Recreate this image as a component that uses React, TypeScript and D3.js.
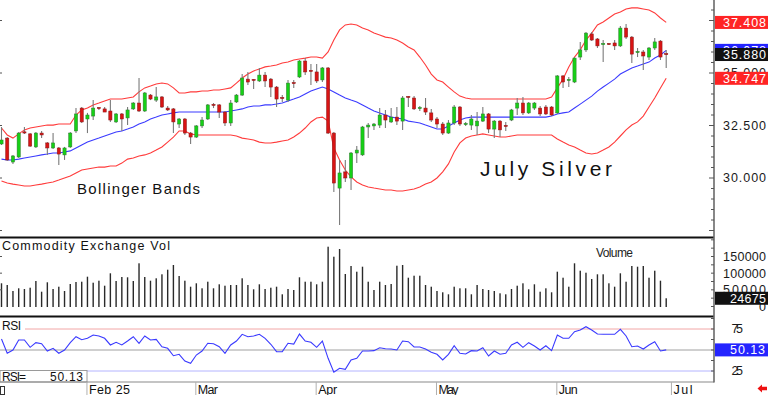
import React, { useEffect } from "react";
import * as d3 from "d3";

// ---- Data (July Silver, daily) ----
const openP = [31.62,31.90,30.76,31.00,32.17,32.10,31.48,32.14,31.67,31.43,
31.43,31.10,31.48,32.24,33.33,32.81,32.95,33.33,33.29,33.19,
32.67,33.05,32.86,33.29,33.57,33.19,33.95,33.71,33.86,33.33,
33.29,32.57,32.81,32.14,31.95,32.48,32.81,33.48,33.48,33.14,
32.62,33.62,33.95,34.71,34.67,34.62,34.90,34.71,34.33,33.81,
33.71,34.52,34.81,35.57,35.10,35.05,34.67,35.24,32.14,29.52,
30.29,30.00,31.19,31.10,32.43,32.48,32.52,33.00,32.67,32.90,
32.71,33.86,33.81,33.29,33.33,33.10,32.81,32.57,32.14,32.62,
33.38,32.52,32.52,32.48,32.71,33.05,32.33,32.71,32.48,32.76,
33.33,33.57,33.10,33.33,33.33,33.38,33.38,33.10,34.86,34.62,
34.57,35.76,36.10,36.86,36.62,36.36,36.38,36.43,36.29,37.14,
36.71,35.95,36.00,35.76,36.19,36.52,35.90];
const highP = [32.43,31.95,31.10,32.19,32.43,32.14,32.19,32.24,31.71,32.14,
31.48,31.48,32.19,33.33,33.38,33.10,33.71,33.38,33.38,33.71,
33.10,33.10,33.38,33.62,34.76,34.10,34.00,34.33,33.90,33.43,
33.33,32.86,32.86,32.19,32.52,32.90,33.52,33.57,33.52,33.19,
33.71,34.00,34.95,35.05,34.71,35.24,35.05,34.76,34.38,33.95,
34.67,34.67,35.62,35.71,35.43,35.43,35.29,35.29,32.19,30.86,
30.86,31.24,31.52,32.48,32.62,32.62,33.33,33.24,33.33,33.38,
33.90,33.90,33.90,33.43,33.81,33.29,32.90,32.67,32.76,33.48,
33.43,32.67,33.00,33.14,33.38,33.10,32.76,32.76,32.67,33.29,
33.81,33.86,33.62,33.62,33.43,33.48,33.43,34.90,34.90,34.81,
35.76,36.48,36.95,36.95,36.67,36.57,36.43,36.57,37.24,37.33,
36.76,36.19,36.10,36.24,36.67,36.57,36.10];
const lowP = [31.57,30.81,30.67,30.95,32.10,31.48,31.43,31.90,31.10,31.38,
30.62,30.86,31.43,32.14,32.62,32.14,32.76,33.24,33.14,32.67,
32.62,32.24,32.52,33.24,33.14,33.14,33.71,33.62,33.33,33.19,
32.14,32.38,32.05,31.62,31.90,32.38,32.76,33.33,32.86,32.48,
32.48,33.57,33.90,34.43,34.24,34.57,34.33,33.86,33.38,33.62,
33.62,34.29,34.76,34.90,34.43,34.52,34.57,32.10,29.33,27.76,
29.81,29.43,30.71,31.05,31.90,32.29,32.38,32.38,32.62,32.52,
32.29,33.38,33.24,33.19,33.00,32.67,32.38,32.05,32.10,32.52,
32.48,32.48,32.29,32.05,32.67,32.14,31.90,31.95,32.24,32.71,
33.00,33.00,33.05,33.24,32.95,33.00,32.95,33.05,34.29,34.33,
34.52,35.62,36.00,36.52,36.19,35.52,36.33,36.10,36.24,36.62,
35.48,35.76,35.14,35.62,36.10,35.62,35.24];
const closeP = [31.81,30.86,31.05,32.14,32.12,31.52,32.14,32.05,31.43,31.67,
31.14,31.43,32.14,33.05,32.67,33.00,33.33,33.29,33.14,32.76,
33.05,32.81,33.24,33.57,33.19,34.05,33.76,33.86,33.38,33.24,
32.67,32.81,32.14,31.95,32.48,32.76,33.48,33.43,33.14,32.62,
33.57,33.95,34.76,34.57,34.62,34.90,34.62,34.33,33.76,33.76,
34.52,34.48,35.57,35.05,35.05,34.62,35.24,32.14,29.76,30.24,
30.00,31.19,31.33,32.43,32.52,32.57,33.00,32.76,32.90,32.71,
33.81,33.81,33.29,33.33,33.14,32.76,32.57,32.14,32.62,33.38,
32.57,32.57,32.81,32.71,33.05,32.33,32.71,32.29,32.43,33.24,
33.57,33.10,33.57,33.57,33.05,33.05,33.00,34.86,34.57,34.67,
35.71,36.10,36.90,36.57,36.29,36.38,36.36,36.29,37.14,36.71,
35.90,36.00,35.81,36.19,36.48,35.76,35.88];

const volume = [69600,64500,46500,54600,52500,56400,76500,44400,72600,52500,
59400,46500,67500,73500,74400,89400,71400,77400,62400,99600,
76500,88500,87600,76500,129600,88500,77400,84600,96600,110400,
124500,91500,77400,59400,69600,54600,74400,54600,66600,62400,
64500,64500,84600,64500,51600,66600,52500,56400,59400,36600,
52500,49500,87600,74400,74400,66600,74400,179400,149400,172500,
97500,121500,104400,119400,74400,49500,74400,64500,67500,122400,
124500,86400,92400,92400,64500,59400,46500,42600,36600,59400,
54600,54600,36600,64500,52500,49500,46500,39600,36600,52500,
62400,69600,51600,66600,44400,54600,42600,104400,86400,59400,
129600,107400,101400,82500,96600,96600,69600,59400,99600,74400,
121500,119400,121500,86400,107400,77400,24675];

const rsi = [63.1,46.1,50.0,61.9,61.9,53.2,58.7,57.5,48.8,52.0,
46.1,50.0,58.7,65.8,62.3,63.9,67.9,66.7,63.9,56.0,
59.2,56.0,60.7,65.8,58.0,66.7,61.9,62.7,53.9,52.0,
43.2,44.9,36.9,34.2,44.0,48.8,58.0,57.5,53.9,46.1,
56.0,60.7,68.7,65.8,66.7,68.7,63.9,56.8,48.0,48.0,
58.0,57.1,69.0,60.7,59.2,53.2,60.7,40.1,23.5,28.2,
27.0,38.1,40.1,48.8,48.8,49.2,52.7,51.5,51.2,50.0,
60.7,59.9,53.6,53.6,51.2,47.3,44.9,38.1,44.9,55.1,
46.1,45.2,49.2,48.8,52.7,42.9,48.8,44.9,46.1,56.0,
59.2,53.2,58.7,54.8,50.0,55.1,49.2,67.9,63.9,63.9,
71.8,73.8,77.7,73.8,69.0,68.7,68.7,68.7,74.6,66.7,
53.9,54.8,51.2,56.0,59.9,48.8,50.13];

const bbUpper = [32.38,32.05,31.90,32.10,32.29,32.38,32.43,32.48,32.52,32.52,
32.57,32.57,32.57,33.00,33.24,33.33,33.48,33.57,33.67,33.76,
33.76,33.76,33.81,33.86,34.10,34.29,34.38,34.48,34.52,34.48,
34.29,34.05,34.05,34.10,34.10,34.14,34.14,34.19,34.19,34.24,
34.29,34.52,34.76,34.95,35.10,35.19,35.29,35.33,35.38,35.48,
35.52,35.62,35.67,35.71,35.76,35.76,35.71,36.00,36.57,37.05,
37.29,37.33,37.29,37.14,37.05,36.90,36.81,36.71,36.67,36.57,
36.43,36.24,36.10,35.76,35.38,34.95,34.67,34.57,34.33,34.10,
33.90,33.81,33.76,33.76,33.76,33.76,33.76,33.76,33.76,33.76,
33.76,33.76,33.76,33.76,33.76,33.76,33.86,34.29,34.71,35.29,
35.76,36.10,36.57,36.90,37.29,37.43,37.62,37.81,37.90,38.05,
38.10,38.10,38.05,38.00,37.86,37.62,37.408];
const bbMiddle = [30.90,30.86,30.86,30.90,30.95,31.00,31.05,31.10,31.14,31.19,
31.19,31.24,31.29,31.43,31.57,31.71,31.81,31.90,32.00,32.10,
32.19,32.24,32.33,32.43,32.57,32.67,32.81,32.90,33.00,33.05,
33.10,33.14,33.14,33.14,33.14,33.14,33.14,33.14,33.14,33.14,
33.19,33.24,33.29,33.38,33.43,33.43,33.48,33.48,33.52,33.57,
33.67,33.76,33.86,34.00,34.14,34.24,34.33,34.24,34.10,33.95,
33.81,33.71,33.62,33.48,33.33,33.19,33.10,33.00,32.90,32.86,
32.81,32.71,32.67,32.62,32.52,32.43,32.33,32.33,32.48,32.62,
32.76,32.86,32.90,32.90,32.90,32.90,32.90,32.90,32.90,32.90,
32.90,32.90,32.90,32.90,32.90,32.90,32.95,33.05,33.10,33.14,
33.33,33.52,33.71,33.90,34.14,34.33,34.52,34.71,34.95,35.10,
35.24,35.33,35.43,35.52,35.71,35.86,36.078];
const bbLower = [29.86,29.76,29.71,29.67,29.62,29.62,29.67,29.71,29.76,29.81,
29.90,30.00,30.10,30.24,30.38,30.43,30.48,30.52,30.52,30.57,
30.57,30.71,30.90,30.95,31.05,31.10,31.19,31.33,31.48,31.71,
31.95,32.24,32.24,32.10,32.05,32.05,32.05,32.05,32.05,32.05,
32.05,32.00,31.90,31.86,31.81,31.71,31.67,31.67,31.71,31.76,
31.81,31.95,32.14,32.38,32.67,32.86,32.90,32.71,31.43,30.86,
30.38,30.05,29.81,29.67,29.57,29.52,29.48,29.43,29.43,29.38,
29.38,29.43,29.48,29.57,29.71,29.81,30.00,30.29,30.67,31.24,
31.67,31.90,32.00,32.05,32.10,32.05,32.00,31.95,31.95,32.00,
32.05,32.05,32.05,32.05,32.05,32.05,32.05,31.86,31.71,31.57,
31.48,31.33,31.19,31.14,31.19,31.33,31.48,31.71,32.00,32.29,
32.52,32.67,32.95,33.38,33.81,34.29,34.747];

const monthLabels = ["Feb 25", "Mar", "Apr", "May", "Jun", "Jul"];
const monthStartIndex = [15, 34, 55, 76, 97, 117];
const monthLabelWidths = [41, 20, 19, 20, 19, 19];
// 37.500 sits entirely under the 37.408 marker in the reference, so only these are labelled
const priceAxisValues = [30, 32.5, 35];
const priceAxisLabels = ["30.000", "32.500", "35.000"];
const volumeAxisValues = [0, 50000, 100000, 150000];
const rsiAxisValues = [25, 75];

const lastUpper = 37.408;
const lastMiddle = 36.078;
const lastClose = 35.88;
const lastLower = 34.747;
const lastVolume = 24675;
const lastRsi = 50.13;

const FONT = "'Liberation Sans', Arial, Helvetica, sans-serif";

export default function App() {
  useEffect(() => {
    document.body.style.margin = "0";
  }, []);

  const W = 768;
  const H = 395;
  const AX = 714;
  const n = closeP.length;
  const idx = d3.range(n);

  const x = d3.scaleLinear().domain([0, n - 1]).range([1.5, 666.2]);
  const yP = d3.scaleLinear().domain([30, 37.5]).range([178, 20.5]);
  const yV = d3.scaleLinear().domain([0, 150000]).range([306.5, 256.5]);
  const yR = d3.scaleLinear().domain([25, 75]).range([371, 329]);

  const bandPath = (arr: number[]) =>
    d3.line<number>().x((i) => x(i)).y((i) => yP(arr[i]))(idx) || "";
  const rsiPath = d3.line<number>().x((i) => x(i)).y((i) => yR(rsi[i]))(idx) || "";

  const priceMinor = d3.range(27.5, 38.51, 0.5);
  const volMinor = d3.range(0, 200001, 25000);
  const rsiMinor = d3.range(12.5, 90, 12.5);

  const numText = (
    key: string,
    label: string,
    xPos: number,
    yCenter: number,
    len: number,
    fill = "#1a1a1a"
  ) => (
    <text
      key={key}
      x={xPos}
      y={yCenter + 4.4}
      fontSize={12.5}
      fontFamily={FONT}
      fill={fill}
      textLength={len}
      lengthAdjust="spacing"
    >
      {label}
    </text>
  );

  const marker = (key: string, yc: number, label: string, bg: string) => (
    <g key={key}>
      <rect x={AX + 1} y={yc - 6.5} width={W - AX - 1} height={13} fill={bg} />
      {numText(key + "t", label, 723, yc, 43, "#ffffff")}
    </g>
  );

  return (
    <svg
      width={W}
      height={H}
      viewBox={`0 0 ${W} ${H}`}
      style={{ position: "absolute", left: 0, top: 0, display: "block", background: "#fff" }}
    >
      <rect x={0} y={0} width={W} height={H} fill="#ffffff" />

      {/* ---------- Price panel ---------- */}
      <path d={bandPath(bbUpper)} fill="none" stroke="#ff3b3b" strokeWidth={1.1} />
      <path d={bandPath(bbLower)} fill="none" stroke="#ff3b3b" strokeWidth={1.1} />
      <path d={bandPath(bbMiddle)} fill="none" stroke="#3b3bff" strokeWidth={1.1} />

      {idx.map((i) => {
        const cx = x(i);
        const up = closeP[i] >= openP[i];
        const top = yP(Math.max(openP[i], closeP[i]));
        const bot = yP(Math.min(openP[i], closeP[i]));
        const h = Math.max(1.2, bot - top);
        return (
          <g key={"c" + i}>
            <line x1={cx} x2={cx} y1={yP(highP[i])} y2={yP(lowP[i])} stroke="#7a7a7a" strokeWidth={1.1} />
            <rect
              x={cx - 1.6}
              y={h <= 1.2 ? top - 0.6 : top}
              width={3.2}
              height={h}
              fill={up ? "#16d016" : "#d81414"}
              stroke={up ? "#2f7a2f" : "#8a1a1a"}
              strokeWidth={0.5}
            />
          </g>
        );
      })}

      <text x={77} y={193.5} fontSize={15} fontFamily={FONT} fill="#111" textLength={123} lengthAdjust="spacing">
        Bollinger Bands
      </text>
      <text x={480} y={175.5} fontSize={21} fontFamily={FONT} fill="#111" textLength={132} lengthAdjust="spacing">
        July Silver
      </text>

      {/* left edge ticks */}
      {[27.5, 30, 32.5, 35, 37.5].map((v) => (
        <line key={"lt" + v} x1={0} x2={2} y1={yP(v)} y2={yP(v)} stroke="#555" />
      ))}

      {/* ---------- Volume panel ---------- */}
      {idx.map((i) => (
        <rect
          key={"v" + i}
          x={x(i) - 0.7}
          y={yV(volume[i])}
          width={1.4}
          height={yV(0) - yV(volume[i]) + 0.5}
          fill="#2a2a2a"
        />
      ))}
      <text x={2} y={249.5} fontSize={12.5} fontFamily={FONT} fill="#111" textLength={168} lengthAdjust="spacing">
        Commodity Exchange Vol
      </text>
      <text x={596} y={256.5} fontSize={12} fontFamily={FONT} fill="#222" textLength={37} lengthAdjust="spacing">
        Volume
      </text>
      {[50000, 100000, 150000].map((v) => (
        <line key={"vlt" + v} x1={0} x2={2} y1={yV(v)} y2={yV(v)} stroke="#555" />
      ))}

      {/* ---------- RSI panel ---------- */}
      <line x1={25} x2={AX} y1={yR(75)} y2={yR(75)} stroke="#f2a6a6" strokeWidth={1} />
      <line x1={0} x2={AX} y1={yR(50)} y2={yR(50)} stroke="#a0a0a0" strokeWidth={1} />
      <line x1={0} x2={AX} y1={yR(25)} y2={yR(25)} stroke="#b4b4ff" strokeWidth={1} />
      <path d={rsiPath} fill="none" stroke="#3a3aff" strokeWidth={1.1} />
      <text x={2} y={329.5} fontSize={12} fontFamily={FONT} fill="#111" textLength={19} lengthAdjust="spacing">
        RSI
      </text>
      <rect x={0} y={370.5} width={87} height={11.5} fill="#ffffff" stroke="#9a9a9a" strokeWidth={1} />
      <text x={2} y={380.5} fontSize={12} fontFamily={FONT} fill="#111" textLength={24} lengthAdjust="spacing">
        RSI=
      </text>
      <text x={50} y={380.5} fontSize={12} fontFamily={FONT} fill="#111" textLength={33} lengthAdjust="spacing">
        {lastRsi.toFixed(2)}
      </text>

      {/* ---------- Panel frames ---------- */}
      <line x1={0} x2={AX} y1={237.5} y2={237.5} stroke="#111" strokeWidth={2} />
      <line x1={0} x2={AX} y1={316.5} y2={316.5} stroke="#111" strokeWidth={2} />
      <line x1={0} x2={AX} y1={382} y2={382} stroke="#8a8a8a" strokeWidth={1.2} />
      <line x1={AX} x2={AX} y1={0} y2={382.5} stroke="#6a6a6a" strokeWidth={1.6} />

      {/* ---------- Right axis: price ---------- */}
      {priceMinor.map((v) => {
        const major = Math.abs(v / 2.5 - Math.round(v / 2.5)) < 1e-6;
        return (
          <line key={"pt" + v} x1={AX - (major ? 5 : 3)} x2={AX} y1={yP(v)} y2={yP(v)} stroke="#555" strokeWidth={1} />
        );
      })}
      {priceAxisValues.map((v, k) => numText("pl" + k, priceAxisLabels[k], 723, yP(v), 43))}

      {/* ---------- Right axis: volume ---------- */}
      {volMinor
        .filter((v) => yV(v) > 239)
        .map((v) => (
          <line key={"vt" + v} x1={AX - 3} x2={AX} y1={yV(v)} y2={yV(v)} stroke="#555" />
        ))}
      {volumeAxisValues.map((v) =>
        v === 0
          ? numText("vl0", "0", 759, yV(0), 7)
          : numText("vl" + v, String(v), 723, yV(v), 43)
      )}

      {/* ---------- Right axis: RSI ---------- */}
      {rsiMinor
        .filter((v) => yR(v) > 318 && yR(v) < 381)
        .map((v) => (
          <line key={"rt" + v} x1={AX - 3} x2={AX} y1={yR(v)} y2={yR(v)} stroke="#555" />
        ))}
      {rsiAxisValues.map((v) => numText("rl" + v, String(v), 731.5, yR(v), 11.5))}

      {/* ---------- Last value markers ---------- */}
      {marker("mMid", yP(lastMiddle), lastMiddle.toFixed(3), "#2424ff")}
      {marker("mClose", yP(lastClose), lastClose.toFixed(3), "#111111")}
      {marker("mUp", yP(lastUpper), lastUpper.toFixed(3), "#ff2424")}
      {marker("mLow", yP(lastLower), lastLower.toFixed(3), "#ff2424")}
      <g>
        <rect x={AX + 1} y={yV(lastVolume) - 6.5} width={W - AX - 1} height={13} fill="#111111" />
        {numText("mVolT", String(lastVolume), 730, yV(lastVolume), 36, "#ffffff")}
      </g>
      <g>
        <rect x={AX + 1} y={yR(lastRsi) - 6.5} width={W - AX - 1} height={13} fill="#2424ff" />
        {numText("mRsiT", lastRsi.toFixed(2), 730, yR(lastRsi), 35, "#ffffff")}
      </g>

      {/* ---------- Date axis ---------- */}
      <rect x={0.5} y={386.5} width={4} height={8} fill="none" stroke="#333" strokeWidth={1} />
      {monthStartIndex.map((mi, k) => {
        const sx = x(0) + (x(1) - x(0)) * mi - 0.5;
        return (
          <g key={"m" + k}>
            <line x1={sx} x2={sx} y1={382} y2={395} stroke="#b0b0b0" strokeWidth={1} />
            <text
              x={sx + 2}
              y={393.5}
              fontSize={12.5}
              fontFamily={FONT}
              fill="#111"
              textLength={monthLabelWidths[k]}
              lengthAdjust="spacing"
            >
              {monthLabels[k]}
            </text>
          </g>
        );
      })}
      <path d="M757.5,388.5 L762,384.5 L762,386.8 L767,386.8 L767,390.2 L762,390.2 L762,392.5 Z" fill="#ee1111" />
    </svg>
  );
}
